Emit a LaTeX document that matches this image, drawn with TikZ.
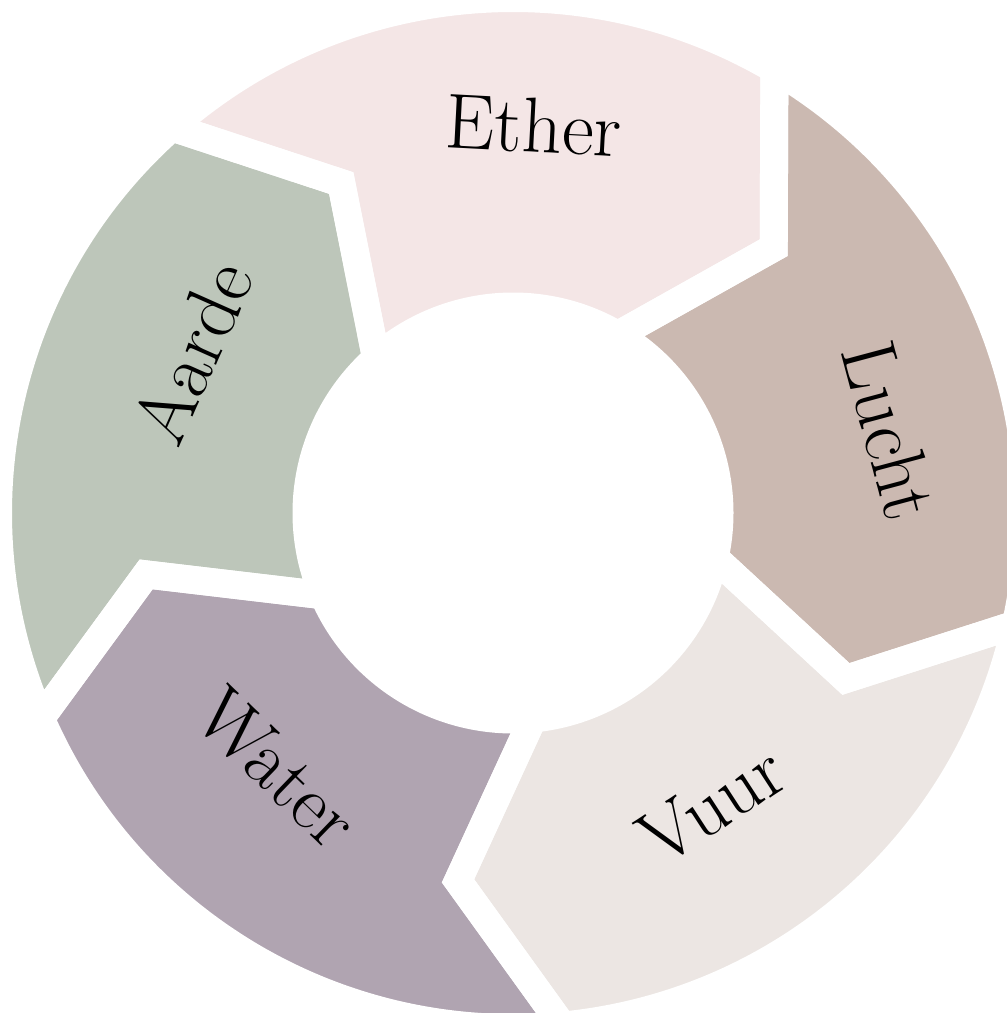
\documentclass[tikz,border=0pt]{standalone}
\definecolor{etherc}{HTML}{F4E6E6}
\definecolor{luchtc}{HTML}{CBB9B1}
\definecolor{vuurc}{HTML}{ECE6E3}
\definecolor{waterc}{HTML}{B0A4B1}
\definecolor{aardec}{HTML}{BDC6BA}
\tikzset{
  lab/.style={font=\fontsize{78}{90}\selectfont, inner sep=0pt, text=black},
  gapline/.style={draw=white, line width=28, line join=miter}
}
\begin{document}
\begin{tikzpicture}[x=1pt,y=1pt]
\fill[white] (0,0) rectangle (1007,1013);
\useasboundingbox (0,0) rectangle (1007,1013);
\clip (0,0) rectangle (1007,1013);
\begin{scope}[shift={(513,500)}]
\foreach \a/\b/\c in {131.5/59.5/etherc, 59.5/-12.5/luchtc, -12.5/-84.5/vuurc, -84.5/-156.5/waterc, -156.5/-228.5/aardec}{
  \fill[\c] (\a:515) arc[start angle=\a, end angle=\b, radius=515] -- ({\b-14}:372) -- (\b:206.5) arc[start angle=\b, end angle=\a, radius=206.5] -- ({\a-14}:372) -- cycle;
}
\foreach \a/\b in {131.5/59.5, 59.5/-12.5, -12.5/-84.5, -84.5/-156.5, -156.5/-228.5}{
  \path[gapline] (\a:515) arc[start angle=\a, end angle=\b, radius=515] -- ({\b-14}:372) -- (\b:206.5) arc[start angle=\b, end angle=\a, radius=206.5] -- ({\a-14}:372) -- cycle;
}
\node[lab, rotate=-3] (ether) at (86.9:388) {Ether};
\node[lab, rotate=-75] (lucht) at (12.4:386) {Lucht};
\node[lab, rotate=33] (vuur) at (-55.7:353) {Vuur};
\node[lab, rotate=-44] (water) at (-132.7:347) {Water};
\node[lab, rotate=66] (aarde) at (153.4:359) {Aarde};
\end{scope}
\end{tikzpicture}
\end{document}
